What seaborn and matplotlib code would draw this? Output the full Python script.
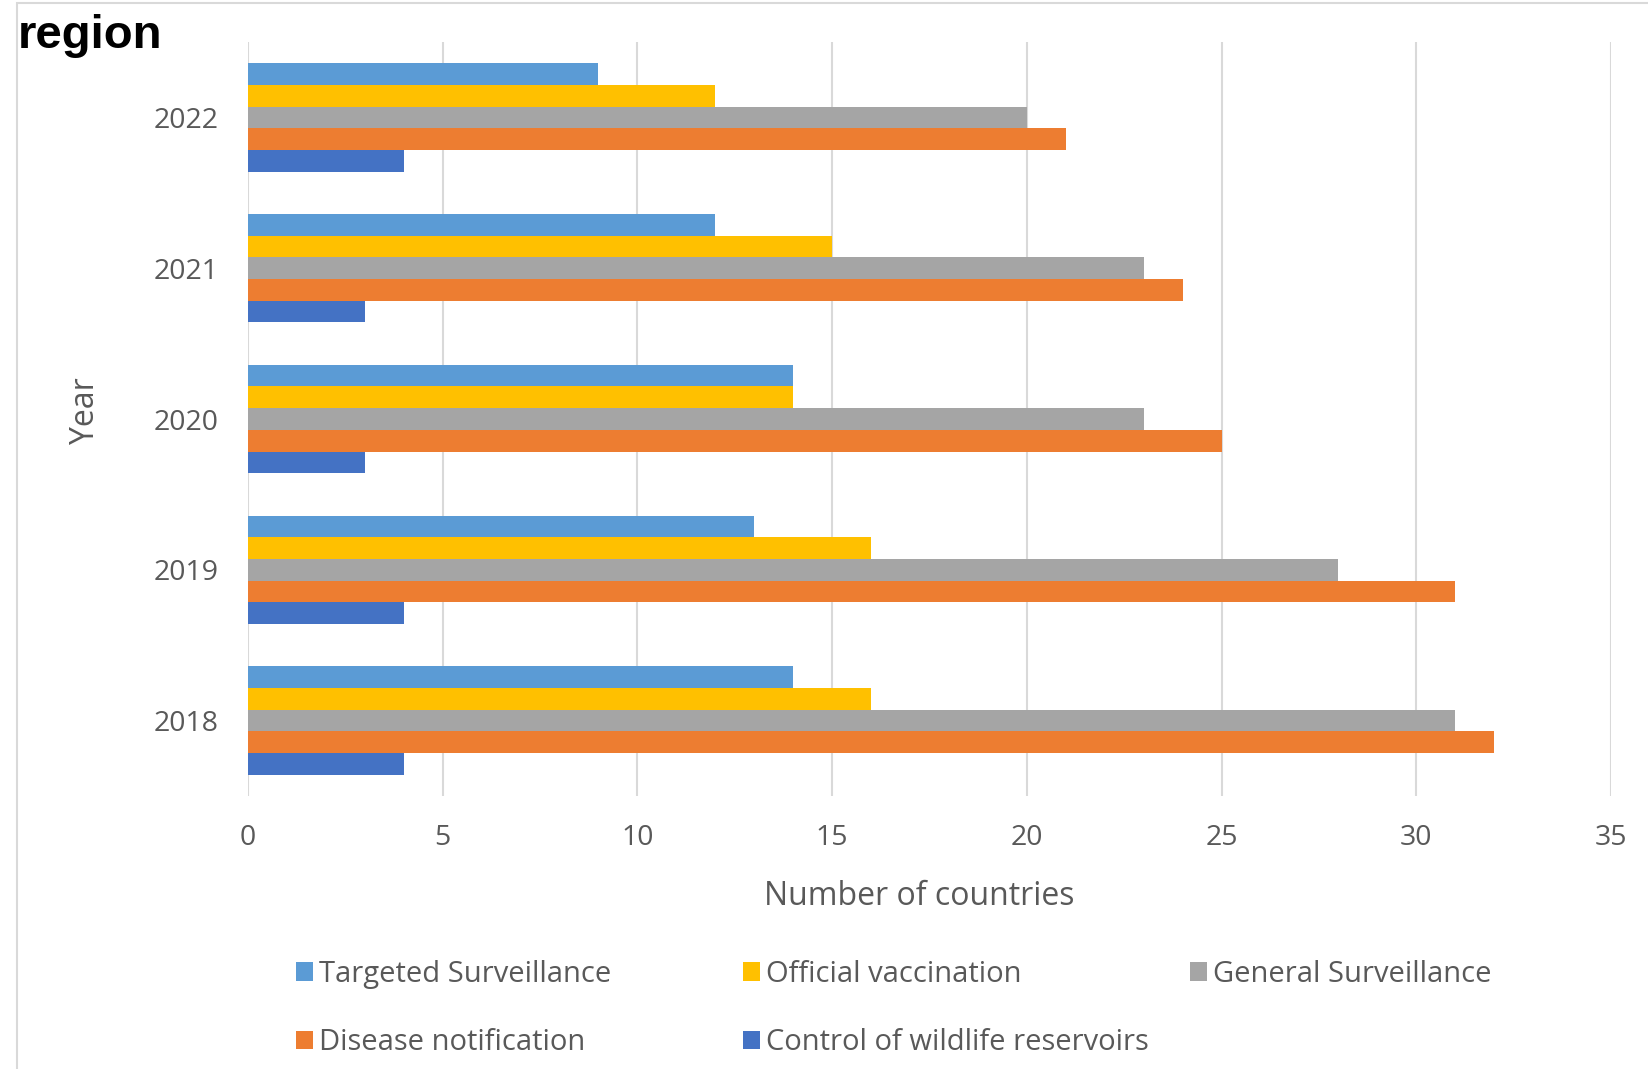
import matplotlib
matplotlib.use("Agg")
import matplotlib.pyplot as plt
import seaborn as sns
import pandas as pd
from matplotlib.patches import Rectangle, Patch

years = ["2022", "2021", "2020", "2019", "2018"]
series = ["Targeted Surveillance", "Official vaccination", "General Surveillance",
          "Disease notification", "Control of wildlife reservoirs"]
targeted = [9, 12, 14, 13, 14]
official = [12, 15, 14, 16, 16]
general = [20, 23, 23, 28, 31]
disease = [21, 24, 25, 31, 32]
control = [4, 3, 3, 4, 4]
colors = ["#5B9BD5", "#FFC000", "#A5A5A5", "#ED7D31", "#4472C4"]
x_ticks = [0, 5, 10, 15, 20, 25, 30, 35]

rows = []
for name, vals in zip(series, [targeted, official, general, disease, control]):
    for y, v in zip(years, vals):
        rows.append({"Year": y, "Series": name, "Value": v})
df = pd.DataFrame(rows)

sns.set_style("white")
plt.rcParams["font.family"] = ["Open Sans", "DejaVu Sans"]

W, H = 1649, 1069
fig = plt.figure(figsize=(W / 100, H / 100), dpi=100)
ax = fig.add_axes([248 / W, 1 - 796 / H, (1611 - 248) / W, (796 - 42) / H])

sns.barplot(data=df, y="Year", x="Value", hue="Series", order=years,
            hue_order=series, palette=colors, orient="h", width=0.72,
            saturation=1, ax=ax, legend=False, linewidth=0)

ax.set_xlim(0, 35)
ax.set_ylim(4.5, -0.5)
ax.set_xticks(x_ticks)
ax.set_xticklabels([str(t) for t in x_ticks])
ax.grid(axis="x", color="#D9D9D9", linewidth=1.5)
ax.set_axisbelow(True)
for s in ["top", "right", "bottom", "left"]:
    ax.spines[s].set_visible(False)
ax.tick_params(axis="both", length=0, labelsize=20.5, labelcolor="#595959")
ax.tick_params(axis="x", pad=20)
ax.tick_params(axis="y", pad=21)

ax.set_xlabel("Number of countries", fontsize=23, color="#595959")
ax.set_ylabel("Year", fontsize=23, color="#595959")
ax.xaxis.set_label_coords((919 - 248) / (1611 - 248), -(880 - 796) / (796 - 42))
ax.yaxis.set_label_coords(-(248 - 102) / (1611 - 248), 1 - (411 - 42) / (796 - 42))

# border
fig.patches.append(Rectangle((17 / W, -0.05), 1.2, 1.05 - 3 / H, transform=fig.transFigure,
                             fill=False, edgecolor="#D9D9D9", linewidth=1.5))

fig.text(18 / W, 1 - 48 / H, "region", fontsize=34, fontweight="bold",
         family="Liberation Sans", va="baseline", ha="left", color="black")

# legend in three columns
handles = [Patch(facecolor=c, edgecolor="none") for c in colors]
col_x = [296, 743, 1190]
groups = [[0, 3], [1, 4], [2]]
for cx, g in zip(col_x, groups):
    leg = fig.legend([handles[i] for i in g], [series[i] for i in g],
                     loc="upper left", bbox_to_anchor=(cx / W, 1 - 960 / H),
                     frameon=False, fontsize=21, handlelength=0.6, handleheight=0.6,
                     handletextpad=0.2, labelspacing=1.34, borderaxespad=0, borderpad=0)
    for t in leg.get_texts():
        t.set_color("#595959")

fig.savefig("out.png", dpi=100)
